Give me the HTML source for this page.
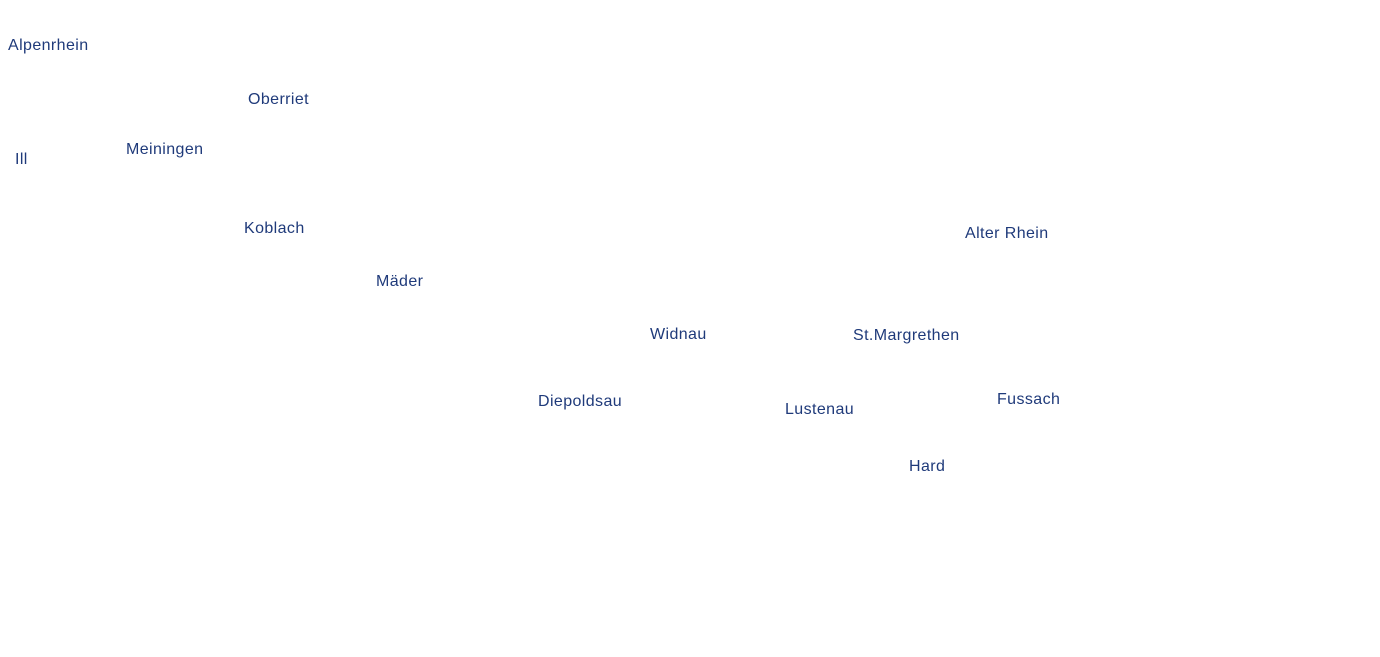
<!DOCTYPE html>
<html><head><meta charset="utf-8"><style>
body{margin:0;width:1380px;height:657px;background:#fff;position:relative;overflow:hidden;font-family:"Liberation Sans",sans-serif;}
div{position:absolute;font-size:16px;line-height:18px;color:#1f3a7a;white-space:nowrap;letter-spacing:0.4px;}
</style></head><body>
<div style="left:8px;top:37px">Alpenrhein</div>
<div style="left:248px;top:91px">Oberriet</div>
<div style="left:126px;top:141px">Meiningen</div>
<div style="left:15px;top:151px">Ill</div>
<div style="left:244px;top:220px">Koblach</div>
<div style="left:965px;top:225px">Alter Rhein</div>
<div style="left:376px;top:273px">Mäder</div>
<div style="left:650px;top:326px">Widnau</div>
<div style="left:853px;top:327px">St.Margrethen</div>
<div style="left:538px;top:393px">Diepoldsau</div>
<div style="left:997px;top:391px">Fussach</div>
<div style="left:785px;top:401px">Lustenau</div>
<div style="left:909px;top:458px">Hard</div>
</body></html>
